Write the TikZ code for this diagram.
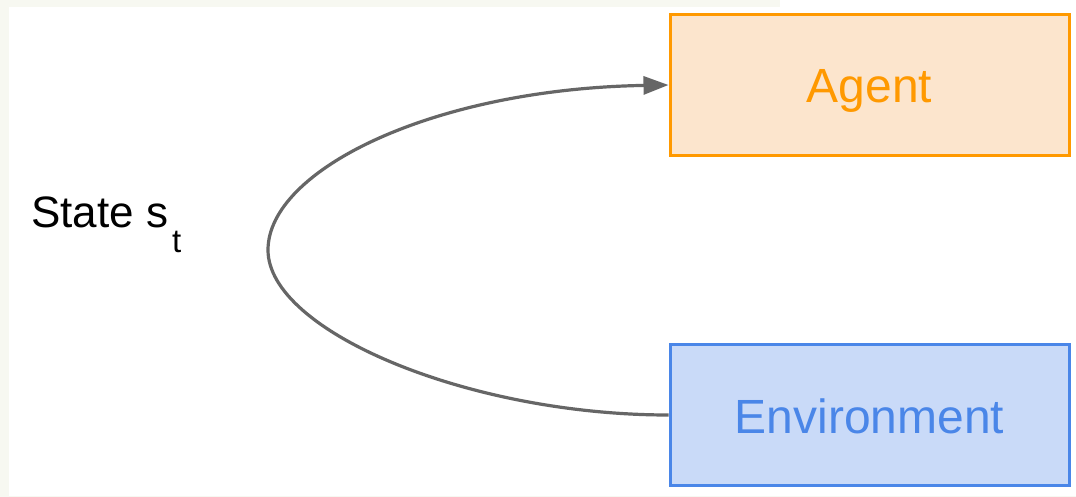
\documentclass[tikz,border=0pt]{standalone}
\usepackage{fontspec}
\setmainfont{Liberation Sans}
\usetikzlibrary{arrows.meta}
\definecolor{edge}{HTML}{666666}
\definecolor{agentline}{HTML}{FF9900}
\definecolor{agentfill}{HTML}{FCE5CD}
\definecolor{envline}{HTML}{4A86E8}
\definecolor{envfill}{HTML}{C9DAF8}
\definecolor{margin}{HTML}{F7F8F1}
\tikzset{
  box/.style={draw, rectangle, line width=3pt, minimum width=399pt, minimum height=141pt,
    inner sep=0pt, text height=36pt, text depth=0pt, font=\fontsize{48}{48}\selectfont},
  agentbox/.style={box, draw=agentline, fill=agentfill, text=agentline},
  envbox/.style={box, draw=envline, fill=envfill, text=envline},
  conn/.style={draw=edge, line width=3.2pt, -{Triangle[length=25pt,width=18pt]}},
}
\begin{document}
\begin{tikzpicture}[x=1pt,y=-1pt]
\useasboundingbox (0,0) rectangle (1076,497);
\fill[margin] (0,0) rectangle (1076,497);
\fill[white] (9,7) rectangle (1076,496);
\fill[white] (780,0) rectangle (1076,7);
\node[agentbox] (agent) at (869.5,85) {Agent};
\node[envbox] (env) at (869.5,415) {Environment};
\node[anchor=base west, inner sep=0pt, font=\fontsize{44}{44}\selectfont] (state) at (31,227)
  {State s\kern4pt\raisebox{-25pt}{\fontsize{33}{33}\selectfont t}};
\coordinate (turn) at (268,250);
\draw[conn] (env.west) .. controls (468,415) and (268,331) .. (turn)
  .. controls (268,170) and (433,89) .. (agent.west);
\end{tikzpicture}
\end{document}
